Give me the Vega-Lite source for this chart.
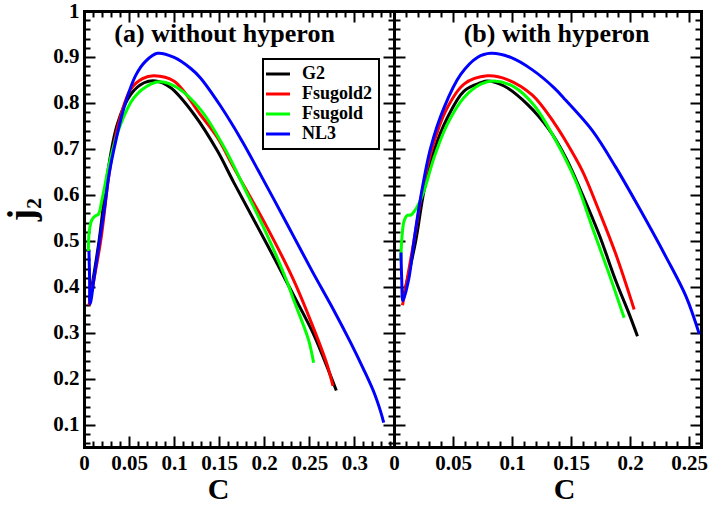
{
  "$schema": "https://vega.github.io/schema/vega-lite/v6.json",
  "padding": {"left": 3, "top": 0, "right": 0, "bottom": 0},
  "spacing": 0,
  "bounds": "flush",
  "datasets": {
    "curves": [
      {"panel":"a","model":"G2","i":0,"C":0.0062,"j2":0.37},
      {"panel":"a","model":"G2","i":1,"C":0.0167,"j2":0.50},
      {"panel":"a","model":"G2","i":2,"C":0.026,"j2":0.645},
      {"panel":"a","model":"G2","i":3,"C":0.037,"j2":0.754},
      {"panel":"a","model":"G2","i":4,"C":0.0519,"j2":0.819},
      {"panel":"a","model":"G2","i":5,"C":0.0667,"j2":0.844},
      {"panel":"a","model":"G2","i":6,"C":0.0796,"j2":0.848},
      {"panel":"a","model":"G2","i":7,"C":0.0963,"j2":0.833},
      {"panel":"a","model":"G2","i":8,"C":0.1222,"j2":0.775},
      {"panel":"a","model":"G2","i":9,"C":0.148,"j2":0.696},
      {"panel":"a","model":"G2","i":10,"C":0.166,"j2":0.628},
      {"panel":"a","model":"G2","i":11,"C":0.203,"j2":0.493},
      {"panel":"a","model":"G2","i":12,"C":0.2326,"j2":0.382},
      {"panel":"a","model":"G2","i":13,"C":0.2548,"j2":0.297},
      {"panel":"a","model":"G2","i":14,"C":0.273,"j2":0.21},
      {"panel":"a","model":"G2","i":15,"C":0.28,"j2":0.175},

      {"panel":"a","model":"Fsugold2","i":0,"C":0.0055,"j2":0.36},
      {"panel":"a","model":"Fsugold2","i":1,"C":0.0185,"j2":0.50},
      {"panel":"a","model":"Fsugold2","i":2,"C":0.0278,"j2":0.645},
      {"panel":"a","model":"Fsugold2","i":3,"C":0.037,"j2":0.745},
      {"panel":"a","model":"Fsugold2","i":4,"C":0.0519,"j2":0.83},
      {"panel":"a","model":"Fsugold2","i":5,"C":0.065,"j2":0.853},
      {"panel":"a","model":"Fsugold2","i":6,"C":0.0778,"j2":0.859},
      {"panel":"a","model":"Fsugold2","i":7,"C":0.1,"j2":0.847},
      {"panel":"a","model":"Fsugold2","i":8,"C":0.129,"j2":0.775},
      {"panel":"a","model":"Fsugold2","i":9,"C":0.148,"j2":0.725},
      {"panel":"a","model":"Fsugold2","i":10,"C":0.166,"j2":0.66},
      {"panel":"a","model":"Fsugold2","i":11,"C":0.203,"j2":0.53},
      {"panel":"a","model":"Fsugold2","i":12,"C":0.2326,"j2":0.415},
      {"panel":"a","model":"Fsugold2","i":13,"C":0.2548,"j2":0.31},
      {"panel":"a","model":"Fsugold2","i":14,"C":0.2696,"j2":0.232},
      {"panel":"a","model":"Fsugold2","i":15,"C":0.2763,"j2":0.185},

      {"panel":"a","model":"Fsugold","i":0,"C":0.0048,"j2":0.478},
      {"panel":"a","model":"Fsugold","i":1,"C":0.0058,"j2":0.52},
      {"panel":"a","model":"Fsugold","i":2,"C":0.0085,"j2":0.545},
      {"panel":"a","model":"Fsugold","i":3,"C":0.0122,"j2":0.554},
      {"panel":"a","model":"Fsugold","i":4,"C":0.016,"j2":0.558},
      {"panel":"a","model":"Fsugold","i":5,"C":0.0197,"j2":0.587},
      {"panel":"a","model":"Fsugold","i":6,"C":0.0296,"j2":0.681},
      {"panel":"a","model":"Fsugold","i":7,"C":0.0407,"j2":0.754},
      {"panel":"a","model":"Fsugold","i":8,"C":0.0556,"j2":0.812},
      {"panel":"a","model":"Fsugold","i":9,"C":0.0741,"j2":0.841},
      {"panel":"a","model":"Fsugold","i":10,"C":0.0852,"j2":0.846},
      {"panel":"a","model":"Fsugold","i":11,"C":0.1037,"j2":0.833},
      {"panel":"a","model":"Fsugold","i":12,"C":0.1296,"j2":0.785},
      {"panel":"a","model":"Fsugold","i":13,"C":0.1556,"j2":0.703},
      {"panel":"a","model":"Fsugold","i":14,"C":0.18,"j2":0.607},
      {"panel":"a","model":"Fsugold","i":15,"C":0.203,"j2":0.514},
      {"panel":"a","model":"Fsugold","i":16,"C":0.225,"j2":0.413},
      {"panel":"a","model":"Fsugold","i":17,"C":0.2326,"j2":0.372},
      {"panel":"a","model":"Fsugold","i":18,"C":0.249,"j2":0.286},
      {"panel":"a","model":"Fsugold","i":19,"C":0.2548,"j2":0.235},

      {"panel":"a","model":"NL3","i":0,"C":0.0055,"j2":0.478},
      {"panel":"a","model":"NL3","i":1,"C":0.0062,"j2":0.42},
      {"panel":"a","model":"NL3","i":2,"C":0.0068,"j2":0.363},
      {"panel":"a","model":"NL3","i":3,"C":0.012,"j2":0.43},
      {"panel":"a","model":"NL3","i":4,"C":0.018,"j2":0.51},
      {"panel":"a","model":"NL3","i":5,"C":0.023,"j2":0.575},
      {"panel":"a","model":"NL3","i":6,"C":0.0278,"j2":0.645},
      {"panel":"a","model":"NL3","i":7,"C":0.0352,"j2":0.717},
      {"panel":"a","model":"NL3","i":8,"C":0.0444,"j2":0.79},
      {"panel":"a","model":"NL3","i":9,"C":0.0574,"j2":0.86},
      {"panel":"a","model":"NL3","i":10,"C":0.0685,"j2":0.891},
      {"panel":"a","model":"NL3","i":11,"C":0.0815,"j2":0.908},
      {"panel":"a","model":"NL3","i":12,"C":0.1,"j2":0.899},
      {"panel":"a","model":"NL3","i":13,"C":0.1185,"j2":0.875},
      {"panel":"a","model":"NL3","i":14,"C":0.129,"j2":0.855},
      {"panel":"a","model":"NL3","i":15,"C":0.151,"j2":0.795},
      {"panel":"a","model":"NL3","i":16,"C":0.1755,"j2":0.717},
      {"panel":"a","model":"NL3","i":17,"C":0.1937,"j2":0.652},
      {"panel":"a","model":"NL3","i":18,"C":0.2122,"j2":0.585},
      {"panel":"a","model":"NL3","i":19,"C":0.2326,"j2":0.51},
      {"panel":"a","model":"NL3","i":20,"C":0.253,"j2":0.435},
      {"panel":"a","model":"NL3","i":21,"C":0.277,"j2":0.35},
      {"panel":"a","model":"NL3","i":22,"C":0.2956,"j2":0.28},
      {"panel":"a","model":"NL3","i":23,"C":0.31,"j2":0.222},
      {"panel":"a","model":"NL3","i":24,"C":0.3215,"j2":0.172},
      {"panel":"a","model":"NL3","i":25,"C":0.329,"j2":0.13},
      {"panel":"a","model":"NL3","i":26,"C":0.3326,"j2":0.105},

      {"panel":"b","model":"G2","i":0,"C":0.0072,"j2":0.37},
      {"panel":"b","model":"G2","i":1,"C":0.0184,"j2":0.50},
      {"panel":"b","model":"G2","i":2,"C":0.0254,"j2":0.609},
      {"panel":"b","model":"G2","i":3,"C":0.0339,"j2":0.696},
      {"panel":"b","model":"G2","i":4,"C":0.0452,"j2":0.768},
      {"panel":"b","model":"G2","i":5,"C":0.0593,"j2":0.826},
      {"panel":"b","model":"G2","i":6,"C":0.0735,"j2":0.844},
      {"panel":"b","model":"G2","i":7,"C":0.079,"j2":0.848},
      {"panel":"b","model":"G2","i":8,"C":0.0932,"j2":0.837},
      {"panel":"b","model":"G2","i":9,"C":0.113,"j2":0.797},
      {"panel":"b","model":"G2","i":10,"C":0.1314,"j2":0.742},
      {"panel":"b","model":"G2","i":11,"C":0.1455,"j2":0.681},
      {"panel":"b","model":"G2","i":12,"C":0.1596,"j2":0.601},
      {"panel":"b","model":"G2","i":13,"C":0.1737,"j2":0.514},
      {"panel":"b","model":"G2","i":14,"C":0.1879,"j2":0.413},
      {"panel":"b","model":"G2","i":15,"C":0.1992,"j2":0.341},
      {"panel":"b","model":"G2","i":16,"C":0.2062,"j2":0.293},

      {"panel":"b","model":"Fsugold2","i":0,"C":0.0072,"j2":0.36},
      {"panel":"b","model":"Fsugold2","i":1,"C":0.0169,"j2":0.50},
      {"panel":"b","model":"Fsugold2","i":2,"C":0.024,"j2":0.609},
      {"panel":"b","model":"Fsugold2","i":3,"C":0.0325,"j2":0.703},
      {"panel":"b","model":"Fsugold2","i":4,"C":0.0438,"j2":0.783},
      {"panel":"b","model":"Fsugold2","i":5,"C":0.0593,"j2":0.841},
      {"panel":"b","model":"Fsugold2","i":6,"C":0.079,"j2":0.859},
      {"panel":"b","model":"Fsugold2","i":7,"C":0.096,"j2":0.851},
      {"panel":"b","model":"Fsugold2","i":8,"C":0.1172,"j2":0.817},
      {"panel":"b","model":"Fsugold2","i":9,"C":0.1356,"j2":0.757},
      {"panel":"b","model":"Fsugold2","i":10,"C":0.1455,"j2":0.717},
      {"panel":"b","model":"Fsugold2","i":11,"C":0.1596,"j2":0.652},
      {"panel":"b","model":"Fsugold2","i":12,"C":0.1737,"j2":0.565},
      {"panel":"b","model":"Fsugold2","i":13,"C":0.1879,"j2":0.471},
      {"panel":"b","model":"Fsugold2","i":14,"C":0.2034,"j2":0.351},

      {"panel":"b","model":"Fsugold","i":0,"C":0.0057,"j2":0.457},
      {"panel":"b","model":"Fsugold","i":1,"C":0.0068,"j2":0.51},
      {"panel":"b","model":"Fsugold","i":2,"C":0.0085,"j2":0.543},
      {"panel":"b","model":"Fsugold","i":3,"C":0.0113,"j2":0.556},
      {"panel":"b","model":"Fsugold","i":4,"C":0.0141,"j2":0.556},
      {"panel":"b","model":"Fsugold","i":5,"C":0.0198,"j2":0.575},
      {"panel":"b","model":"Fsugold","i":6,"C":0.0254,"j2":0.609},
      {"panel":"b","model":"Fsugold","i":7,"C":0.0339,"j2":0.681},
      {"panel":"b","model":"Fsugold","i":8,"C":0.0452,"j2":0.754},
      {"panel":"b","model":"Fsugold","i":9,"C":0.0593,"j2":0.812},
      {"panel":"b","model":"Fsugold","i":10,"C":0.0735,"j2":0.841},
      {"panel":"b","model":"Fsugold","i":11,"C":0.0847,"j2":0.848},
      {"panel":"b","model":"Fsugold","i":12,"C":0.1017,"j2":0.835},
      {"panel":"b","model":"Fsugold","i":13,"C":0.1186,"j2":0.795},
      {"panel":"b","model":"Fsugold","i":14,"C":0.1356,"j2":0.725},
      {"panel":"b","model":"Fsugold","i":15,"C":0.154,"j2":0.63},
      {"panel":"b","model":"Fsugold","i":16,"C":0.168,"j2":0.529},
      {"panel":"b","model":"Fsugold","i":17,"C":0.1822,"j2":0.428},
      {"panel":"b","model":"Fsugold","i":18,"C":0.1949,"j2":0.333},

      {"panel":"b","model":"NL3","i":0,"C":0.0059,"j2":0.475},
      {"panel":"b","model":"NL3","i":1,"C":0.0065,"j2":0.42},
      {"panel":"b","model":"NL3","i":2,"C":0.0076,"j2":0.37},
      {"panel":"b","model":"NL3","i":3,"C":0.0127,"j2":0.42},
      {"panel":"b","model":"NL3","i":4,"C":0.0169,"j2":0.50},
      {"panel":"b","model":"NL3","i":5,"C":0.0226,"j2":0.595},
      {"panel":"b","model":"NL3","i":6,"C":0.0311,"j2":0.703},
      {"panel":"b","model":"NL3","i":7,"C":0.0424,"j2":0.79},
      {"panel":"b","model":"NL3","i":8,"C":0.0565,"j2":0.862},
      {"panel":"b","model":"NL3","i":9,"C":0.0706,"j2":0.899},
      {"panel":"b","model":"NL3","i":10,"C":0.082,"j2":0.908},
      {"panel":"b","model":"NL3","i":11,"C":0.0989,"j2":0.899},
      {"panel":"b","model":"NL3","i":12,"C":0.1172,"j2":0.872},
      {"panel":"b","model":"NL3","i":13,"C":0.1356,"j2":0.833},
      {"panel":"b","model":"NL3","i":14,"C":0.1455,"j2":0.806},
      {"panel":"b","model":"NL3","i":15,"C":0.168,"j2":0.74},
      {"panel":"b","model":"NL3","i":16,"C":0.1879,"j2":0.66},
      {"panel":"b","model":"NL3","i":17,"C":0.2076,"j2":0.572},
      {"panel":"b","model":"NL3","i":18,"C":0.2302,"j2":0.466},
      {"panel":"b","model":"NL3","i":19,"C":0.2472,"j2":0.38},
      {"panel":"b","model":"NL3","i":20,"C":0.2585,"j2":0.298}
    ]
  },
  "hconcat": [
    {
      "width": 310,
      "height": 436,
      "layer": [
        {
          "data": {"name": "curves"},
          "transform": [{"filter": "datum.panel == 'a'"}],
          "mark": {"type": "line", "strokeWidth": 3, "interpolate": "catmull-rom"},
          "encoding": {
            "x": {"field": "C", "type": "quantitative",
              "scale": {"domain": [0, 0.344], "nice": false, "zero": false},
              "axis": {"orient": "bottom",
                "values": [0,0.01,0.02,0.03,0.04,0.05,0.06,0.07,0.08,0.09,0.1,0.11,0.12,0.13,0.14,0.15,0.16,0.17,0.18,0.19,0.2,0.21,0.22,0.23,0.24,0.25,0.26,0.27,0.28,0.29,0.3,0.31,0.32,0.33,0.34],
                "tickSize": {"condition": {"test": "abs(datum.value/0.05 - round(datum.value/0.05)) < 0.01", "value": -11}, "value": -6},
                "labelExpr": "abs(datum.value/0.05 - round(datum.value/0.05)) < 0.01 ? format(datum.value, '~g') : ''",
                "title": "C", "titleX": 134, "titleY": 51, "titleFontSize": 30, "titleBaseline": "alphabetic", "titleAlign": "center"}},
            "y": {"field": "j2", "type": "quantitative",
              "scale": {"domain": [0.052, 1], "nice": false, "zero": false},
              "axis": {"orient": "left",
                "values": [0.06,0.08,0.1,0.12,0.14,0.16,0.18,0.2,0.22,0.24,0.26,0.28,0.3,0.32,0.34,0.36,0.38,0.4,0.42,0.44,0.46,0.48,0.5,0.52,0.54,0.56,0.58,0.6,0.62,0.64,0.66,0.68,0.7,0.72,0.74,0.76,0.78,0.8,0.82,0.84,0.86,0.88,0.9,0.92,0.94,0.96,0.98,1],
                "tickSize": {"condition": {"test": "abs(datum.value/0.1 - round(datum.value/0.1)) < 0.01", "value": -11}, "value": -6},
                "labelExpr": "abs(datum.value/0.1 - round(datum.value/0.1)) < 0.01 ? format(datum.value, '~g') : ''",
                "title": "j₂", "titleX": -51, "titleY": 198, "titleAngle": 270, "titleFontSize": 37, "titleBaseline": "alphabetic", "titleAlign": "center"}},
            "color": {"field": "model", "type": "nominal",
              "scale": {"domain": ["G2", "Fsugold2", "Fsugold", "NL3"], "range": ["#000000", "#ff0000", "#00ff00", "#0000ff"]},
              "legend": {"orient": "none", "legendX": 179, "legendY": 48, "title": null}},
            "order": {"field": "i", "type": "quantitative"}
          }
        },
        {
          "data": {"name": "curves"},
          "transform": [{"filter": "datum.panel == 'a'"}],
          "mark": {"type": "point", "opacity": 0},
          "encoding": {
            "x": {"field": "C", "type": "quantitative",
              "scale": {"domain": [0, 0.344], "nice": false, "zero": false},
              "axis": {"orient": "top", "labels": false, "title": null,
                "values": [0,0.01,0.02,0.03,0.04,0.05,0.06,0.07,0.08,0.09,0.1,0.11,0.12,0.13,0.14,0.15,0.16,0.17,0.18,0.19,0.2,0.21,0.22,0.23,0.24,0.25,0.26,0.27,0.28,0.29,0.3,0.31,0.32,0.33,0.34],
                "tickSize": {"condition": {"test": "abs(datum.value/0.05 - round(datum.value/0.05)) < 0.01", "value": -11}, "value": -6}}},
            "y": {"field": "j2", "type": "quantitative",
              "scale": {"domain": [0.052, 1], "nice": false, "zero": false},
              "axis": {"orient": "right", "labels": false, "title": null,
                "values": [0.06,0.08,0.1,0.12,0.14,0.16,0.18,0.2,0.22,0.24,0.26,0.28,0.3,0.32,0.34,0.36,0.38,0.4,0.42,0.44,0.46,0.48,0.5,0.52,0.54,0.56,0.58,0.6,0.62,0.64,0.66,0.68,0.7,0.72,0.74,0.76,0.78,0.8,0.82,0.84,0.86,0.88,0.9,0.92,0.94,0.96,0.98,1],
                "tickSize": {"condition": {"test": "abs(datum.value/0.1 - round(datum.value/0.1)) < 0.01", "value": -11}, "value": -6}}}
          }
        },
        {
          "data": {"values": [{}]},
          "mark": {"type": "text", "font": "Liberation Serif", "fontWeight": "bold", "fontSize": 26, "baseline": "alphabetic", "align": "center", "color": "#000"},
          "encoding": {
            "x": {"datum": 0.156, "type": "quantitative", "axis": null},
            "y": {"datum": 0.932, "type": "quantitative", "axis": null},
            "text": {"value": "(a) without hyperon"}
          }
        }
      ],
      "resolve": {"axis": {"x": "independent", "y": "independent"}}
    },
    {
      "width": 307,
      "height": 436,
      "layer": [
        {
          "data": {"name": "curves"},
          "transform": [{"filter": "datum.panel == 'b'"}],
          "mark": {"type": "line", "strokeWidth": 3, "interpolate": "catmull-rom"},
          "encoding": {
            "x": {"field": "C", "type": "quantitative",
              "scale": {"domain": [0, 0.26], "nice": false, "zero": false},
              "axis": {"orient": "bottom",
                "values": [0,0.01,0.02,0.03,0.04,0.05,0.06,0.07,0.08,0.09,0.1,0.11,0.12,0.13,0.14,0.15,0.16,0.17,0.18,0.19,0.2,0.21,0.22,0.23,0.24,0.25,0.26],
                "tickSize": {"condition": {"test": "abs(datum.value/0.05 - round(datum.value/0.05)) < 0.01", "value": -11}, "value": -6},
                "labelExpr": "abs(datum.value/0.05 - round(datum.value/0.05)) < 0.01 ? format(datum.value, '~g') : ''",
                "title": "C", "titleX": 170, "titleY": 51, "titleFontSize": 30, "titleBaseline": "alphabetic", "titleAlign": "center"}},
            "y": {"field": "j2", "type": "quantitative",
              "scale": {"domain": [0.052, 1], "nice": false, "zero": false},
              "axis": {"orient": "left", "labels": false, "title": null,
                "values": [0.06,0.08,0.1,0.12,0.14,0.16,0.18,0.2,0.22,0.24,0.26,0.28,0.3,0.32,0.34,0.36,0.38,0.4,0.42,0.44,0.46,0.48,0.5,0.52,0.54,0.56,0.58,0.6,0.62,0.64,0.66,0.68,0.7,0.72,0.74,0.76,0.78,0.8,0.82,0.84,0.86,0.88,0.9,0.92,0.94,0.96,0.98,1],
                "tickSize": {"condition": {"test": "abs(datum.value/0.1 - round(datum.value/0.1)) < 0.01", "value": -11}, "value": -6}}},
            "color": {"field": "model", "type": "nominal",
              "scale": {"domain": ["G2", "Fsugold2", "Fsugold", "NL3"], "range": ["#000000", "#ff0000", "#00ff00", "#0000ff"]},
              "legend": {"orient": "none", "legendX": 179, "legendY": 48, "title": null}},
            "order": {"field": "i", "type": "quantitative"}
          }
        },
        {
          "data": {"name": "curves"},
          "transform": [{"filter": "datum.panel == 'b'"}],
          "mark": {"type": "point", "opacity": 0},
          "encoding": {
            "x": {"field": "C", "type": "quantitative",
              "scale": {"domain": [0, 0.26], "nice": false, "zero": false},
              "axis": {"orient": "top", "labels": false, "title": null,
                "values": [0,0.01,0.02,0.03,0.04,0.05,0.06,0.07,0.08,0.09,0.1,0.11,0.12,0.13,0.14,0.15,0.16,0.17,0.18,0.19,0.2,0.21,0.22,0.23,0.24,0.25,0.26],
                "tickSize": {"condition": {"test": "abs(datum.value/0.05 - round(datum.value/0.05)) < 0.01", "value": -11}, "value": -6}}},
            "y": {"field": "j2", "type": "quantitative",
              "scale": {"domain": [0.052, 1], "nice": false, "zero": false},
              "axis": {"orient": "right", "labels": false, "title": null,
                "values": [0.06,0.08,0.1,0.12,0.14,0.16,0.18,0.2,0.22,0.24,0.26,0.28,0.3,0.32,0.34,0.36,0.38,0.4,0.42,0.44,0.46,0.48,0.5,0.52,0.54,0.56,0.58,0.6,0.62,0.64,0.66,0.68,0.7,0.72,0.74,0.76,0.78,0.8,0.82,0.84,0.86,0.88,0.9,0.92,0.94,0.96,0.98,1],
                "tickSize": {"condition": {"test": "abs(datum.value/0.1 - round(datum.value/0.1)) < 0.01", "value": -11}, "value": -6}}}
          }
        },
        {
          "data": {"values": [{}]},
          "mark": {"type": "text", "font": "Liberation Serif", "fontWeight": "bold", "fontSize": 26, "baseline": "alphabetic", "align": "center", "color": "#000"},
          "encoding": {
            "x": {"datum": 0.1377, "type": "quantitative", "axis": null},
            "y": {"datum": 0.932, "type": "quantitative", "axis": null},
            "text": {"value": "(b) with hyperon"}
          }
        }
      ],
      "resolve": {"axis": {"x": "independent", "y": "independent"}}
    }
  ],
  "config": {
    "view": {"stroke": null},
    "font": "Liberation Serif",
    "axis": {
      "domainColor": "#000", "domainWidth": 3, "domainCap": "square",
      "tickColor": "#000", "tickWidth": 2,
      "labelFont": "Liberation Serif", "labelFontWeight": "bold", "labelFontSize": 21, "labelColor": "#000",
      "labelPadding": 16, "labelFlush": false, "labelOverlap": false, "labelBound": false,
      "titleFont": "Liberation Serif", "titleFontWeight": "bold", "titleColor": "#000", "grid": false
    },
    "legend": {
      "strokeColor": "#000", "strokeWidth": 2, "fillColor": "#fff", "padding": 6,
      "symbolType": "M-2,0H2", "symbolStrokeWidth": 3, "symbolSize": 144,
      "labelFont": "Liberation Serif", "labelFontWeight": "bold", "labelFontSize": 18, "labelColor": "#000",
      "labelOffset": 15, "rowPadding": 2
    }
  }
}
